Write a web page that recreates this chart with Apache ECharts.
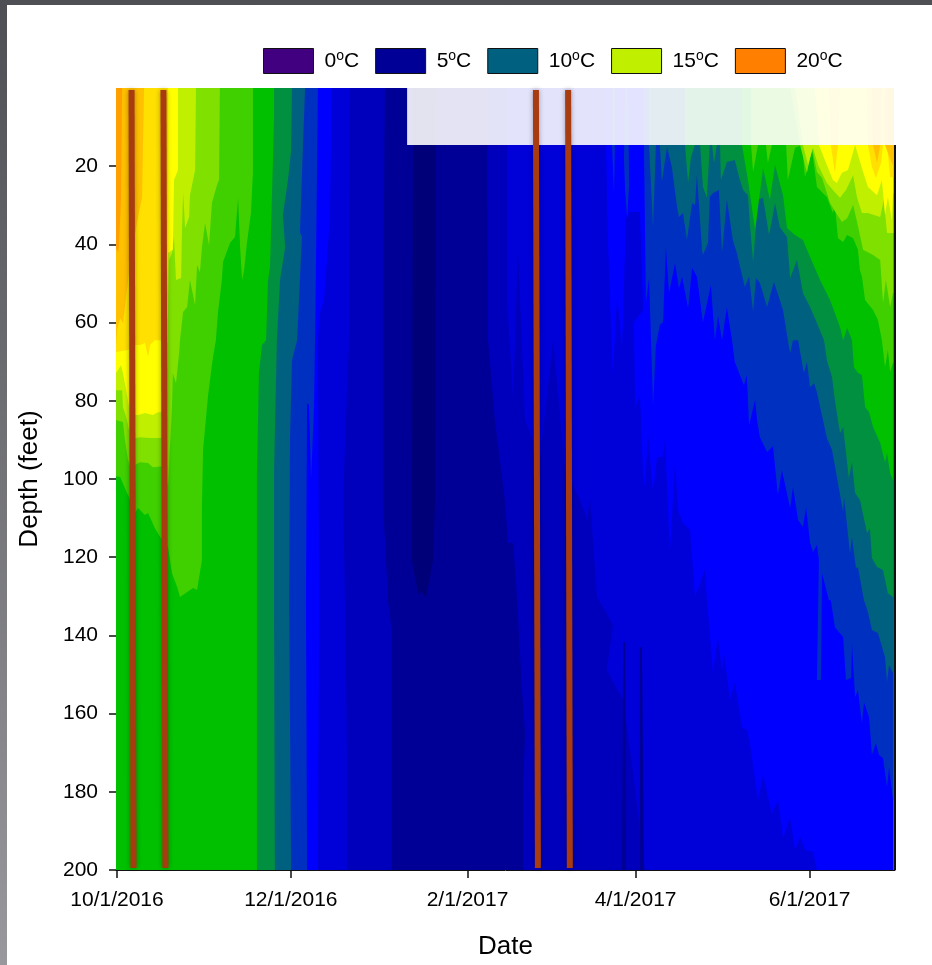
<!DOCTYPE html>
<html>
<head>
<meta charset="utf-8">
<title>Lake temperature by depth</title>
<script src="https://cdn.jsdelivr.net/npm/echarts@6/dist/echarts.min.js"></script>
<style>
  html, body { margin: 0; height: 100%; overflow: hidden; background: linear-gradient(180deg, #4e4f54, #98989d); }
  #panel { position: absolute; left: 7px; top: 5px; right: 0; bottom: 0; background: #fff; }
  #chart { position: absolute; left: 0; top: 0; width: 932px; height: 965px; }
</style>
</head>
<body>
<div id="panel"></div>
<div id="chart"></div>
<script>
// x is days since 10/1/2016, y is depth in feet
const dateTickDays = [0, 61, 123, 182, 243];
const dateTickLabels = ['10/1/2016', '12/1/2016', '2/1/2017', '4/1/2017', '6/1/2017'];
const depthTicks = [20, 40, 60, 80, 100, 120, 140, 160, 180, 200];
const dayMin = -0.35, dayEnd = 272.4, dayMax = 273;

// legend
const legendNames = ['0°C', '5°C', '10°C', '15°C', '20°C'];
const legendColors = ['#400080', '#000096', '#006080', '#c0f000', '#ff8000'];

// band colours, one per degree
const c4 = '#000078', c5 = '#000096', c6 = '#0000bc', c7 = '#0000d8', c8 = '#0000ff', c9 = '#0030c0',
  c10 = '#006080', c11 = '#009040', c12 = '#00c000', c13 = '#40d000', c14 = '#80e000', c15 = '#c0f000',
  c16 = '#ffff00', c17 = '#ffe000', c18 = '#ffc000', c19 = '#ffa000';

// isotherms of the autumn cooling, read top to bottom
const left6 = [[94,0],[93.7,28.6],[93.3,54.2],[93.3,105.4],[95.1,131],[96.5,139.4],[96.5,200]];
const left7 = [[81.8,0],[81.4,64.5],[79.3,105.4],[80,131],[80.7,169.3],[80.7,200]];
const left8 = [[75.4,0],[74.7,33.8],[72.6,54.2],[71.2,57.6],[70.5,64.5],[70.9,131],[70.5,200]];
const left9 = [[70.5,0],[70.2,20.2],[69.5,64.5],[69.1,82.4],[68.1,99.8],[67.4,81.1],[66.7,80.6],[66.3,131],[66.7,200]];
const left10 = [[66,0],[65,20],[64.2,37],[64.9,38],[63.2,64.5],[61.4,69.6],[60.7,90],[60.4,131],[61.1,200]];
const left11 = [[61.4,0],[61.1,15.9],[60,23.5],[58.2,32.5],[59,40.7],[57.2,49.1],[56.1,64.5],[55.1,98.5],[55.1,131],[55.4,200]];
const left12 = [[55.1,0],[55.1,8.2],[53.7,45.8],[53,49.1],[52.3,64.5],[50.9,65.7],[49.8,72.9],[49.1,98.5],[49.1,200]];
const left13 = [[47.7,0],[47.7,21.7],[47,32],[45.6,39.6],[44.6,46.6],[43.9,49.1],[43.2,40.7],[42.5,28.1],[41.4,38.1],[39.7,39.6],[37.2,44.5],[36.8,49.1],[35.4,57.6],[34.7,64.5],[33.7,68.8],[33.3,70.9],[31.9,79],[30.2,92.6],[29.8,107.2],[29.8,120.7],[28.1,128.4],[26.7,127.9],[22.1,130.2],[21.1,127.6],[19.3,124.1],[17.9,117.4],[15.8,115.6],[13.3,112.6],[10.9,108.7],[9.8,109.2],[7.4,107.4],[6.3,108.7],[3.9,104.1],[3.5,103.6],[1.1,99.5],[-0.35,99.3]];
const left14 = [[36.1,0],[35.8,23.5],[35.1,24.8],[33.3,29.4],[32.3,40.2],[30.9,34.5],[29.8,40.7],[29.1,47.1],[28.1,45.3],[27.4,55.5],[25.6,49.1],[24.6,56],[23.2,57.3],[22.1,64.5],[21.8,67.8],[20.7,75.5],[19.6,72.9],[19.3,81.6],[17.9,102],[16.8,96.7],[12.6,97],[10.9,95.9],[8.1,95.7],[6.3,96.4],[4.9,97.7],[3.9,95.2],[2.8,90],[2.1,85.4],[-0.35,84.9]];
const left15 = [[27.7,0],[27.4,21],[25.6,27.4],[25.3,33],[23.9,35.8],[23.2,26.6],[22.8,36.3],[22.5,48.6],[20.7,49.1],[20,38.1],[19.3,42.2],[18.2,44],[17.9,56],[17.2,87.5],[15.8,89.5],[11.6,89.5],[8.1,89.3],[6.7,89.5],[4.9,90],[3.5,84.9],[2.1,81.6],[1.8,77.3],[-0.35,77.3]];
const left16 = [[21.4,0],[21.4,21],[20,23.5],[19.6,41.4],[17.9,42.2],[17.2,61.9],[16.8,82.9],[14.4,82.9],[12.6,83.6],[9.8,83.1],[7.4,83.6],[6.3,83.6],[4.2,81.6],[3.5,78.5],[2.1,72.9],[1.4,70.9],[-0.35,72.9]];
const left17 = [[17.9,0],[17.5,61.9],[15.8,64.5],[13.3,64.5],[11.6,65.7],[10.9,68.8],[9.8,65.2],[8.1,65.7],[6.7,65.7],[5.6,65.7],[3.9,67],[-0.35,67.5]];
const left18 = [[9.5,0],[9.1,15],[8.8,28],[7,34.5],[4.2,47.3],[3.2,53.5],[2.1,60.1],[1.1,58.8],[0,61.9],[-0.35,65.7]];
const left19 = [[1.8,0],[1.4,28.6],[0.7,40.2],[0.4,42],[-0.35,41]];

// isotherms of the spring warming
const right6 = [[129.8,0],[130.2,64.5],[132.6,84.9],[136.1,105.4],[137.2,116.4],[139,116.4],[140.4,131],[142.1,154],[143.2,165],[142.5,177.8],[142.5,200]];
const right7 = [[136.9,0],[136.9,54.2],[139,79.8],[140.7,41.4],[143.2,84.9],[148.4,95.2],[153,64.5],[157.2,97.7],[162.5,105.4],[164.9,110.5],[166,105.4],[168.4,130.2],[171.2,133.5],[174,137.4],[171.9,148.9],[177.6,156.6],[180.5,172],[185.3,200]];
const right8 = [[171.6,0],[171.6,14.6],[172.3,40.2],[174,73.4],[175.5,53],[177.2,67],[178.6,33.3],[180,31.7],[183.5,31.7],[184.6,56.8],[181.4,59.9],[181.8,81.9],[183.5,78.5],[184.6,99],[185.3,102.3],[186.3,88.3],[188.1,103.3],[189.5,94.4],[191.6,94.4],[192.3,90],[194,119],[195.8,95.9],[196.9,108],[198.6,111.3],[201.1,113.1],[202.8,130.2],[206.3,123.3],[207,131],[208,139.4],[209.1,149.4],[210.9,140.4],[212.3,149.4],[213,144.5],[215.1,156.6],[216.8,152.2],[219.3,163.5],[221,164.2],[222.1,167.6],[224.9,182.1],[226.7,175.7],[229.8,185.5],[231.9,182.1],[233.7,191.9],[236.2,186.7],[237.9,194.9],[239.7,191.6],[241.4,194.9],[244.2,195.4],[245.6,200]];
const right9 = [[184.9,0],[184.9,14.6],[185.6,54.7],[186.7,48.6],[188.1,81.1],[189.1,65.7],[190.5,60.6],[191.6,59.9],[192.6,40.7],[193.7,52.4],[195.8,44.8],[197.2,51.2],[198.3,48.3],[200.4,56.3],[201.8,46],[203.5,48.3],[205.6,59.9],[208.4,50.4],[209.8,64.5],[210.9,58.1],[212.3,64.5],[214,56],[215.8,64.5],[216.8,70.1],[220,76],[221,73.4],[221.8,86.2],[223.9,79.8],[224.6,84.9],[225.6,89.3],[228.1,93.1],[230.2,91.6],[231.9,104.1],[233.3,97.7],[236.2,107.4],[237.2,102.1],[239,110.5],[240.7,112.3],[241.8,107.2],[243.2,116.4],[244.2,118.7],[245.6,116.9],[246.3,120.7],[245.6,151.4],[247,151.4],[247.4,124.1],[249.8,131],[250.5,131],[251.9,137.9],[254.8,140.4],[255.8,151.4],[257.6,150.9],[257.9,142],[259,155.8],[260,154],[261.4,162.4],[262.1,157.1],[263.9,160.9],[264.9,170.6],[266.3,167.6],[267.4,170.6],[268.8,171.4],[270.2,178.8],[270.9,173.7],[272.3,182.1]];
const right10 = [[186.7,0],[186.7,14.6],[188.1,35.6],[189.1,14.6],[190.5,14.6],[191.2,24],[193,15.1],[194.7,20.2],[196.5,30.4],[197.2,33],[198.6,32],[200,38.9],[201.8,29.4],[202.8,29.9],[203.5,22.3],[205.3,41.4],[205.6,42.7],[207.4,39.6],[208,27.9],[209.1,26.9],[211.2,26.1],[212.3,42.2],[214,28.6],[216.1,38.9],[217.5,42.2],[220.3,50.9],[221.8,48.3],[223.2,57.3],[224.2,48.6],[225.6,49.9],[228.1,56],[230.5,49.6],[233.7,56.8],[235.4,64.5],[236.2,67.8],[237.2,64.5],[239,64.5],[241,72.9],[242.1,70.1],[243.2,76.5],[244.6,75.5],[245.6,77.8],[249.1,89.5],[250.9,92.6],[252.6,99.5],[254.8,108.5],[255.1,104.6],[257.2,119],[257.9,114.9],[259.3,122.8],[260,122.5],[262.1,131],[263.5,134],[264.9,138.6],[267,139.4],[269.5,145.6],[270.2,152],[270.9,147.6],[272.3,149.6]];
const right11 = [[199.3,0],[199.3,14.6],[200.4,24.3],[201.4,17.7],[202.8,14.6],[204.6,14.6],[205.6,25.3],[207,28.1],[208,14.6],[208.8,14.6],[209.5,19.2],[210.5,14.6],[211.6,14.6],[211.9,23.5],[214,18.9],[216.8,18.4],[218.3,22.8],[219.7,26.1],[221.4,27.4],[222.1,35],[223.2,44.5],[224.9,28.6],[226.7,28.1],[228.8,37.6],[230.9,29.4],[232.6,35.6],[235.1,38.1],[236.2,48.6],[238.6,44],[240.7,52.4],[243.2,56],[245.6,60.1],[248.1,64.5],[249.1,69.6],[250.9,73.9],[251.9,79.8],[253.7,88.3],[254.8,86.7],[256.8,99.8],[257.9,95.7],[259,103.6],[260.7,105.4],[263.2,113.8],[264.2,112.6],[264.9,120.2],[266.7,122.5],[268.8,123.3],[270.5,129.2],[272.3,130.2]];
const right12 = [[219.3,0],[219.3,14.6],[221.4,23.5],[223.9,36.3],[226.7,20.5],[229.1,28.6],[230.9,19.7],[233.7,27.4],[235.1,35.8],[237.9,37.6],[240.7,38.9],[243.2,43.2],[246.7,49.1],[250.2,54.2],[253.7,61.1],[254.8,64.5],[256.2,61.4],[257.9,64.5],[258.6,71.4],[260,72.9],[261.4,73.4],[262.5,81.6],[263.9,82.9],[265.3,86.7],[267.8,90.8],[269.5,95.7],[270.2,93.4],[271.3,98.5],[272.3,100.3]];
const right13 = [[222.5,0],[222.5,14.6],[223.2,21.5],[224.9,14.6],[227.7,14.6],[228.4,19.2],[229.8,14.6],[234.8,14.6],[235.4,23.5],[237.9,15.3],[240.4,14.6],[241.4,22.8],[243.9,15.9],[245.6,25.3],[247.7,26.9],[249.1,27.9],[251.2,32],[251.9,29.9],[253,38.4],[254.8,39.4],[256.2,37.6],[258.3,38.4],[260,41.4],[260.7,46.6],[261.4,48.3],[262.5,54.2],[265.3,56.8],[267,59.3],[268.4,64.5],[269.5,71.4],[270.5,67],[271.3,72.6],[272.3,70.3]];
const right14 = [[236.2,0],[239.7,14.6],[242.1,21.7],[243.9,15.3],[245.6,21.5],[247.4,23],[250.2,29.4],[252.3,32],[254.4,34.3],[256.2,33.3],[258.3,29.9],[259.7,34.3],[261.8,41.4],[265.3,42.7],[267.8,44],[268.8,55],[269.8,49.1],[271.3,56],[272.3,52.4]];
const right15 = [[237.9,0],[240.7,14.6],[242.5,19.7],[244.2,15.3],[246,19.7],[249.1,24.3],[251.2,26.1],[253.7,28.1],[255.8,26.1],[258.3,22.3],[259.7,28.1],[261.4,32],[263.5,32],[267.8,33],[269.1,28.6],[270.2,37.1],[272.3,37.1]];
const right16 = [[244.9,0],[246.3,14.6],[248.4,18.4],[251.2,23.5],[252.6,24.3],[254.4,21.7],[256.5,21],[259,14.6],[261.4,20.5],[263.5,25.3],[266.7,27.4],[268.4,23.5],[269.5,32.5],[270.5,27.9],[271.9,33.8],[272.3,26.9]];
const right17 = [[263,0],[263.5,14.6],[264.9,20.2],[266.3,23],[268.1,19.2],[268.8,14.6],[270.2,14.6],[271.3,22.8],[272.3,22.8]];
const right18 = [[269.5,0],[269.5,14.6],[271.9,19.2],[272.3,19.7]];

// closed patches that touch neither side
const whole5 = [[dayMin,0],[dayEnd,0],[dayEnd,200],[dayMin,200]];
const pocket4 = [[103.9,0],[103.5,105.4],[103.5,120.7],[105.6,129.2],[107,128.9],[108.4,130.5],[109.8,125.1],[110.9,120.7],[111.6,105.4],[111.9,0]];
const spike9a = [[173.7,0],[173.7,14.6],[174.4,26.9],[174.7,14.6],[174.7,0]];
const spike9b = [[178.3,0],[177.9,18.4],[178.3,26.1],[179,33.3],[179.7,24.8],[179.3,0]];
const dark6a = [[177.6,141.7],[178.3,141.7],[178.6,200],[177.2,200]];
const dark6b = [[183.5,143],[184.2,143],[184.9,200],[183.5,200]];
const dark6c = [[180.7,180.1],[181.8,180.1],[181.8,200],[180.7,200]];
const gold17 = [[249.8,0],[250.5,14.6],[251.9,21.7],[253,14.6],[253.7,0]];
const orange18 = [[265,0],[265.3,14.6],[266.7,19.2],[267.8,14.6],[268,0]];
const haze = [[101.8,0],[dayMax,0],[dayMax,14.6],[101.8,14.6]];

// the four sampling marks and the right frame line
const markLines = [
  [[5.1,0.5],[5.8,199.5]],
  [[16.3,0.5],[17,199.5]],
  [[147,0.5],[147.7,199.5]],
  [[158.3,0.5],[158.9,199.5]]
];
const frameRight = [[dayMax,14.6],[dayMax,200]];

const fontName = '"Liberation Sans", Arial, sans-serif';

function closeLeft(pts) {
  return pts.concat([[dayMin, pts[pts.length - 1][1]], [dayMin, 0]]);
}
function closeRight(pts) {
  return pts.concat([[dayEnd, pts[pts.length - 1][1]], [dayEnd, 0]]);
}

function patch(points, fill) {
  return {
    type: 'custom',
    silent: true,
    animation: false,
    clip: true,
    data: [[0, 0]],
    renderItem: function (params, api) {
      return {
        type: 'polygon',
        shape: { points: points.map(function (p) { return api.coord(p); }) },
        style: { fill: fill }
      };
    }
  };
}

// painted coldest first, each one over the last
const layers = [
  [whole5, c5], [pocket4, c4],
  [closeLeft(left6), c6], [closeRight(right6), c6],
  [closeLeft(left7), c7], [closeRight(right7), c7],
  [dark6a, c5], [dark6b, c5], [dark6c, c6],
  [closeLeft(left8), c8], [closeRight(right8), c8],
  [spike9a, c9], [spike9b, c9],
  [closeLeft(left9), c9], [closeRight(right9), c9],
  [closeLeft(left10), c10], [closeRight(right10), c10],
  [closeLeft(left11), c11], [closeRight(right11), c11],
  [closeLeft(left12), c12], [closeRight(right12), c12],
  [closeLeft(left13), c13], [closeRight(right13), c13],
  [closeLeft(left14), c14], [closeRight(right14), c14],
  [closeLeft(left15), c15], [closeRight(right15), c15],
  [closeLeft(left16), c16], [closeRight(right16), c16],
  [closeLeft(left17), c17], [closeRight(right17), c17], [gold17, c17],
  [closeLeft(left18), c18], [closeRight(right18), c18], [orange18, c18],
  [closeLeft(left19), c19],
  [haze, 'rgba(255,255,255,0.89)']
];

const series = layers.map(function (l) { return patch(l[0], l[1]); });

markLines.forEach(function (line) {
  series.push({
    type: 'line',
    silent: true,
    animation: false,
    clip: false,
    symbol: 'none',
    data: line,
    lineStyle: { color: '#a83c10', width: 6, cap: 'butt', shadowBlur: 5, shadowColor: 'rgba(0,0,0,0.35)' }
  });
});

series.push({
  type: 'line',
  silent: true,
  animation: false,
  clip: false,
  symbol: 'none',
  data: frameRight,
  lineStyle: { color: '#111', width: 2 }
});

// empty series, only here so the legend has entries
legendNames.forEach(function (name, i) {
  series.push({ type: 'custom', name: name, data: [], itemStyle: { color: legendColors[i] }, renderItem: function () {} });
});

const chart = echarts.init(document.getElementById('chart'), null, { renderer: 'canvas' });
chart.setOption({
  animation: false,
  backgroundColor: 'transparent',
  textStyle: { fontFamily: fontName, color: '#000' },
  grid: { left: 116, right: 37, top: 88, bottom: 95 },
  legend: {
    left: 263,
    top: 48,
    padding: 0,
    itemWidth: 50,
    itemHeight: 25,
    itemGap: 16,
    selectedMode: false,
    icon: 'rect',
    data: legendNames.map(function (name) {
      return { name: name, itemStyle: { borderColor: '#111', borderWidth: 1 } };
    }),
    formatter: function (name) {
      return '{g|}{t|' + name.replace('°', '}{o|o}{t|') + '}';
    },
    textStyle: {
      rich: {
        g: { width: 6 },
        t: { fontFamily: fontName, fontSize: 21, color: '#000' },
        o: { fontFamily: fontName, fontSize: 14, color: '#000', verticalAlign: 'middle', padding: [0, 0, 10, 0] }
      }
    }
  },
  xAxis: {
    type: 'value',
    min: dayMin,
    max: dayMax,
    name: 'Date',
    nameLocation: 'middle',
    nameGap: 64,
    nameTextStyle: { fontSize: 26, color: '#000', fontFamily: fontName },
    splitLine: { show: false },
    axisLine: { show: true, onZero: false, lineStyle: { color: '#111', width: 1 } },
    axisTick: { show: true, length: 8, customValues: dateTickDays, lineStyle: { color: '#111', width: 1.5 } },
    axisLabel: {
      customValues: dateTickDays,
      fontSize: 21,
      color: '#000',
      margin: 20,
      formatter: function (v) { return dateTickLabels[dateTickDays.indexOf(v)]; }
    }
  },
  yAxis: {
    type: 'value',
    inverse: true,
    min: 0,
    max: 200,
    name: 'Depth (feet)',
    nameLocation: 'middle',
    nameGap: 73,
    nameTextStyle: { fontSize: 26, color: '#000', fontFamily: fontName },
    splitLine: { show: false },
    axisLine: { show: false },
    axisTick: { show: true, length: 8, customValues: depthTicks, lineStyle: { color: '#111', width: 1.5 } },
    axisLabel: { customValues: depthTicks, fontSize: 21, color: '#000', margin: 18 }
  },
  series: series
});
</script>
</body>
</html>
